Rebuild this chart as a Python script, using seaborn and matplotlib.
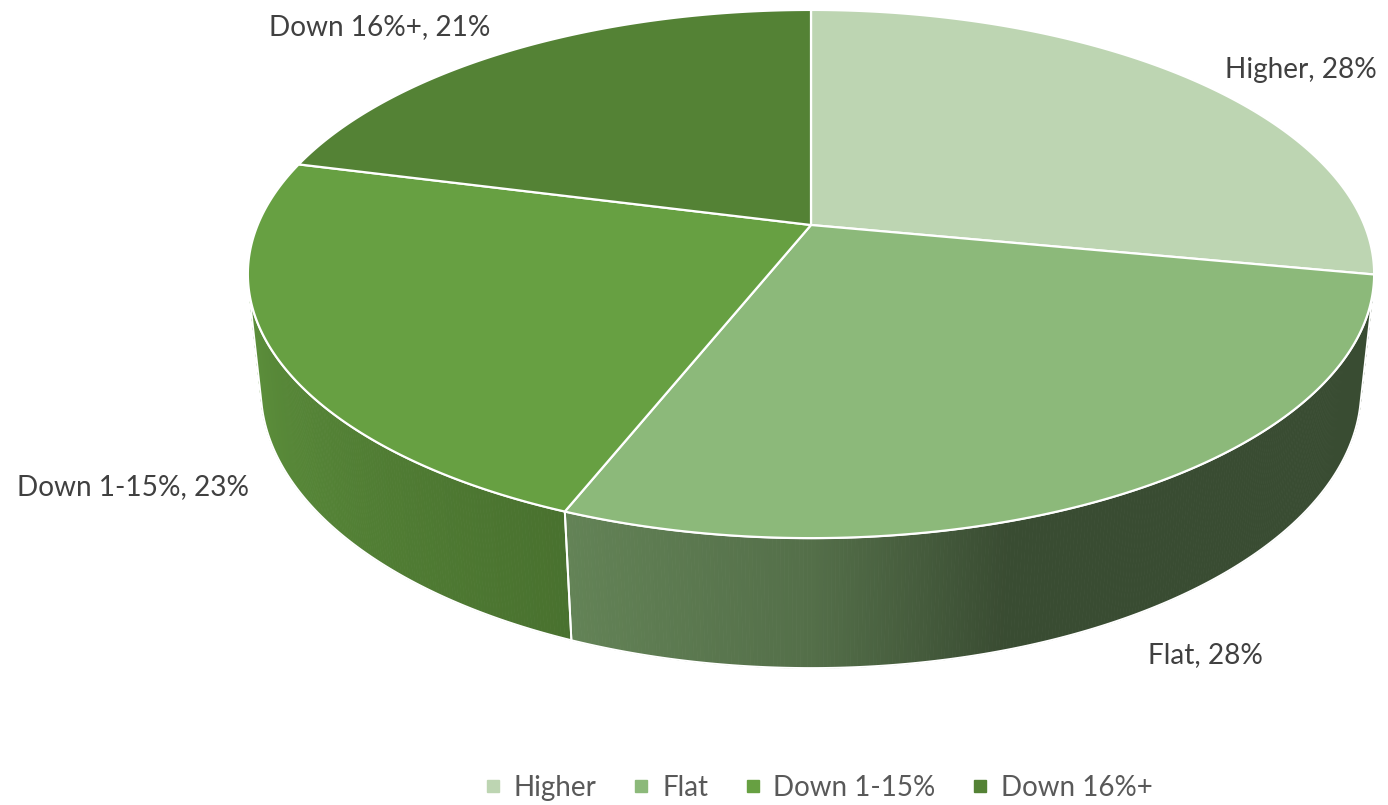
import numpy as np
import matplotlib
matplotlib.use("Agg")
import matplotlib.pyplot as plt
from matplotlib.patches import Polygon
from matplotlib.collections import PolyCollection
from matplotlib.lines import Line2D
from matplotlib.colors import to_rgb
import seaborn as sns

# ---- data ----
categories = ["Higher", "Flat", "Down 1-15%", "Down 16%+"]
shares = [28, 28, 23, 21]
top_colors = ["#BDD5B2", "#8CB97A", "#67A042", "#548235"]

# side-wall lighting: brightness factor versus angle on the rim (degrees)
light_angles = [-170, -166, -112, -90, -73, -10]
light_levels = [0.90, 0.90, 0.71, 0.60, 0.41, 0.41]

sns.set_theme(style="white")
plt.rcParams["font.family"] = ["Lato", "DejaVu Sans"]
palette = sns.color_palette(top_colors)

W, H = 1388, 805
fig = plt.figure(figsize=(W / 100, H / 100), dpi=100)
ax = fig.add_axes([0, 0, 1, 1])
ax.set_xlim(0, W)
ax.set_ylim(H, 0)
ax.axis("off")

# ---- perspective camera for a unit-radius disc of given thickness ----
elev = np.radians(27.44)
dist = 4.78
focal = 2645.0
cx, cy = 811.0, 225.0
thick = 0.236


def project(theta_deg, z):
    t = np.radians(theta_deg)
    x, y = np.cos(t), np.sin(t)
    depth = dist + y * np.cos(elev) - z * np.sin(elev)
    X = cx + focal * x / depth
    Y = cy - focal * (y * np.sin(elev) + z * np.cos(elev)) / depth
    return np.column_stack([X, Y])


# slice angle bounds, clockwise from 12 o'clock
cum = np.concatenate([[0], np.cumsum(shares)]) / sum(shares)
starts = 90 - 360 * cum[:-1]
ends = 90 - 360 * cum[1:]

# rim faces the viewer where sin(theta) < -1/(dist*cos(elev))
vis_lim = np.degrees(np.arcsin(1 / (dist * np.cos(elev))))
vis_lo, vis_hi = -180 + vis_lim, -vis_lim

# ---- side walls ----
for s, e, col in zip(starts, ends, palette):
    a0, a1 = max(e, vis_lo), min(s, vis_hi)
    if a1 <= a0:
        continue
    steps = np.linspace(a0, a1, int((a1 - a0) * 3) + 2)
    quads, cols = [], []
    base = np.array(to_rgb(col))
    for t0, t1 in zip(steps[:-1], steps[1:]):
        top = project(np.array([t0, t1]), 0.0)
        bot = project(np.array([t1, t0]), -thick)
        quads.append(np.vstack([top, bot]))
        lvl = np.interp(0.5 * (t0 + t1), light_angles, light_levels)
        cols.append(np.clip(base * lvl, 0, 1))
    ax.add_collection(PolyCollection(quads, facecolors=cols, edgecolors=cols,
                                     linewidths=0.6, zorder=2))
    arc = np.linspace(a0, a1, 200)
    outline = np.vstack([project(arc, 0.0), project(arc[::-1], -thick)])
    ax.add_patch(Polygon(outline, closed=True, fill=False, edgecolor="white",
                         linewidth=1.4, zorder=3))

# ---- top face wedges ----
for s, e, col in zip(starts, ends, palette):
    arc = np.linspace(s, e, 300)
    pts = np.vstack([[cx, cy], project(arc, 0.0)])
    ax.add_patch(Polygon(pts, closed=True, facecolor=col, edgecolor="white",
                         linewidth=1.6, joinstyle="round", zorder=4))

# ---- data labels ----
label_pos = {
    "Higher": (1301, 70),
    "Flat": (1205, 655),
    "Down 1-15%": (133, 487),
    "Down 16%+": (380, 27),
}
for cat, val in zip(categories, shares):
    x, y = label_pos[cat]
    ax.text(x, y, f"{cat}, {val}%", ha="center", va="center",
            fontsize=20.2, color="#404040", zorder=6)

# ---- legend ----
handles = [Line2D([], [], marker="s", linestyle="", markersize=8,
                  markerfacecolor=c, markeredgecolor=c) for c in palette]
fig.legend(handles, categories, loc="center", ncol=4, frameon=False,
           bbox_to_anchor=(818 / W, 1 - 788 / H), fontsize=20,
           labelcolor="#595959", handlelength=0.7, handletextpad=0.4,
           columnspacing=1.25)

fig.savefig("out.png", dpi=100)
